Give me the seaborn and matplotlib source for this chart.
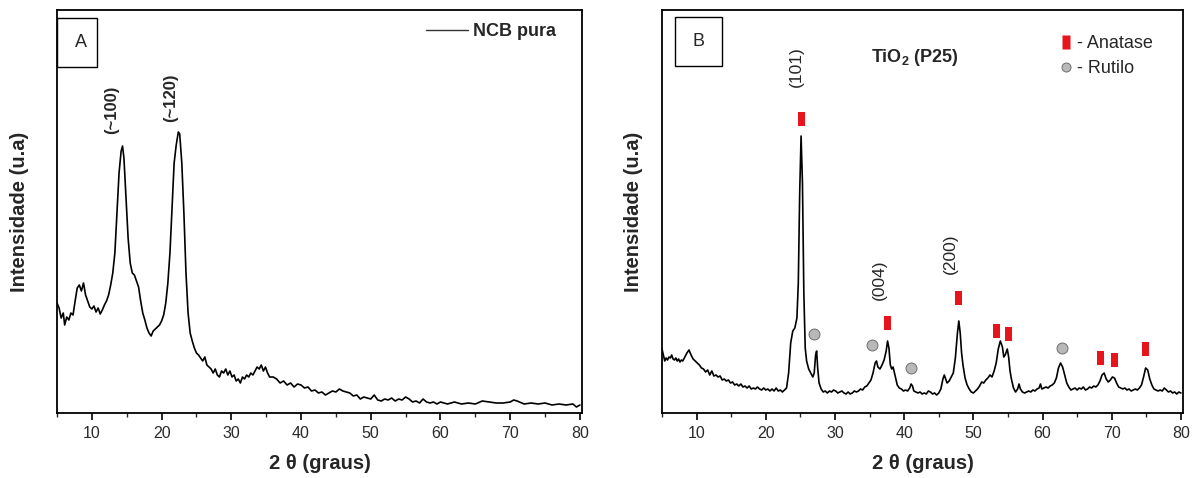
import numpy as np
import pandas as pd
import matplotlib
matplotlib.use("Agg")
import matplotlib.pyplot as plt
from matplotlib.patches import Rectangle
from matplotlib.lines import Line2D
from matplotlib.ticker import MultipleLocator
import seaborn as sns

# ---------------- data ----------------
ncb_theta = [5.0, 5.3, 5.6, 5.9, 6.1, 6.4, 6.7, 7.0, 7.3, 7.6, 7.9, 8.2, 8.5, 8.8, 9.1, 9.4, 9.7,
             10.0, 10.3, 10.6, 10.9, 11.2, 11.5, 11.8, 12.1, 12.4, 12.7, 13.0, 13.3, 13.6, 13.9,
             14.2, 14.4, 14.6, 14.9, 15.2, 15.5, 15.8, 16.1, 16.4, 16.7, 17.0, 17.3, 17.6, 17.9,
             18.2, 18.5, 18.8, 19.1, 19.4, 19.7, 20.0, 20.3, 20.6, 20.9, 21.2, 21.5, 21.8, 22.1,
             22.4, 22.6, 22.9, 23.2, 23.5, 23.8, 24.1, 24.4, 24.7, 25.0, 25.3, 25.6, 25.9, 26.2,
             26.5, 26.8, 27.1, 27.4, 27.7, 28.0, 28.3, 28.6, 28.9, 29.2, 29.5, 29.8, 30.1, 30.4,
             30.7, 31.0, 31.3, 31.6, 31.9, 32.2, 32.5, 32.8, 33.1, 33.4, 33.7, 34.0, 34.3, 34.6,
             34.9, 35.2, 35.5, 36.0, 36.5, 37.0, 37.5, 38.0, 38.5, 39.0, 39.5, 40.0, 40.5, 41.0,
             41.5, 42.0, 42.5, 43.0, 43.5, 44.0, 44.5, 45.0, 45.5, 46.0, 46.5, 47.0, 47.5, 48.0,
             48.5, 49.0, 49.5, 50.0, 50.5, 51.0, 51.5, 52.0, 52.5, 53.0, 53.5, 54.0, 54.5, 55.0,
             55.5, 56.0, 56.5, 57.0, 57.5, 58.0, 58.5, 59.0, 59.5, 60.0, 61.0, 62.0, 63.0, 64.0,
             65.0, 66.0, 67.0, 68.0, 69.0, 70.0, 70.5, 71.0, 72.0, 73.0, 74.0, 75.0, 76.0, 77.0,
             78.0, 79.0, 79.5, 80.0]
ncb_int = [110, 105, 95, 100, 88, 96, 93, 100, 98, 112, 125, 128, 122, 130, 118, 112, 106,
           104, 107, 101, 105, 99, 103, 108, 112, 118, 128, 140, 160, 200, 240,
           262, 267, 255, 215, 175, 150, 140, 138, 132, 126, 112, 100, 93, 85,
           80, 77, 82, 84, 86, 88, 92, 98, 110, 130, 160, 205, 250, 268,
           281, 279, 250, 200, 140, 100, 80, 72, 65, 60, 58, 55, 52, 56,
           48, 46, 44, 40, 44, 38, 36, 42, 40, 44, 38, 42, 36, 38,
           32, 34, 30, 36, 34, 38, 36, 40, 38, 42, 46, 44, 48, 42,
           46, 40, 36, 36, 34, 30, 32, 28, 30, 26, 29, 28, 25, 26,
           22, 23, 20, 21, 18, 20, 22, 21, 24, 22, 21, 20, 17, 18,
           14, 16, 15, 14, 18, 13, 12, 14, 13, 15, 12, 14, 13, 16,
           14, 11, 12, 10, 14, 11, 10, 11, 9, 11, 9, 11, 9, 10,
           9, 12, 11, 10, 10, 11, 13, 12, 9, 10, 9, 10, 8, 9,
           8, 9, 6, 8]

tio2_theta = [5.0, 5.2, 5.4, 5.6, 5.8, 6.0, 6.2, 6.4, 6.6, 6.8, 7.0, 7.2, 7.4, 7.6, 7.8, 8.0,
              8.3, 8.6, 8.9, 9.2, 9.5, 9.8, 10.1, 10.4, 10.7, 11.0, 11.3, 11.6, 11.9, 12.2, 12.5,
              12.8, 13.1, 13.4, 13.7, 14.0, 14.3, 14.6, 14.9, 15.2, 15.5, 15.8, 16.1, 16.4, 16.7,
              17.0, 17.3, 17.6, 17.9, 18.2, 18.5, 18.8, 19.1, 19.4, 19.7, 20.0, 20.3, 20.6, 20.9,
              21.2, 21.5, 21.8, 22.1, 22.4, 22.7, 23.0, 23.3, 23.6, 23.9, 24.2, 24.5, 24.7, 24.9,
              25.1, 25.3, 25.5, 25.7, 25.9, 26.2, 26.5, 26.8, 27.0, 27.2, 27.35, 27.5, 27.7, 28.0,
              28.3, 28.6, 28.9, 29.2, 29.5, 29.8, 30.1, 30.4, 30.7, 31.0, 31.3, 31.6, 31.9, 32.2,
              32.5, 32.8, 33.1, 33.4, 33.7, 34.0, 34.3, 34.6, 34.9, 35.2, 35.5, 35.8, 36.0, 36.2,
              36.5, 36.8, 37.1, 37.4, 37.6, 37.8, 38.0, 38.2, 38.4, 38.6, 38.8, 39.0, 39.3, 39.6,
              39.9, 40.2, 40.5, 40.8, 41.0, 41.2, 41.4, 41.7, 42.0, 42.3, 42.6, 42.9, 43.2, 43.5,
              43.8, 44.1, 44.4, 44.7, 45.0, 45.3, 45.6, 45.8, 46.0, 46.2, 46.5, 46.8, 47.1, 47.4,
              47.7, 47.9, 48.1, 48.3, 48.5, 48.8, 49.1, 49.4, 49.7, 50.0, 50.3, 50.6, 50.9, 51.2,
              51.5, 51.8, 52.1, 52.4, 52.7, 53.0, 53.3, 53.6, 53.9, 54.2, 54.4, 54.6, 54.9, 55.1,
              55.3, 55.5, 55.8, 56.1, 56.4, 56.6, 56.8, 57.1, 57.4, 57.7, 58.0, 58.3, 58.6, 58.9,
              59.2, 59.5, 59.7, 59.9, 60.2, 60.5, 60.8, 61.1, 61.4, 61.7, 62.0, 62.3, 62.6, 62.9,
              63.2, 63.5, 63.8, 64.1, 64.4, 64.7, 65.0, 65.3, 65.6, 65.9, 66.2, 66.5, 66.8, 67.1,
              67.4, 67.7, 68.0, 68.3, 68.6, 68.9, 69.2, 69.5, 69.8, 70.1, 70.4, 70.7, 71.0, 71.3,
              71.6, 71.9, 72.2, 72.5, 72.8, 73.1, 73.4, 73.7, 74.0, 74.3, 74.6, 74.9, 75.2, 75.5,
              75.8, 76.1, 76.4, 76.7, 77.0, 77.3, 77.6, 77.9, 78.2, 78.5, 78.8, 79.1, 79.4, 79.7,
              80.0]
tio2_int = [64, 58, 52, 55, 53, 56, 55, 58, 54, 53, 55, 52, 54, 51, 53, 52,
            56, 60, 63, 58, 54, 52, 50, 48, 45, 44, 41, 43, 38, 42, 37,
            38, 36, 37, 33, 34, 32, 33, 30, 31, 28, 29, 27, 29, 26,
            27, 25, 27, 24, 25, 24, 26, 24, 23, 25, 23, 24, 22, 24,
            22, 25, 22, 23, 21, 23, 25, 40, 70, 82, 85, 95, 130, 220,
            277, 230, 120, 65, 52, 44, 40, 36, 40, 58, 62, 45, 30, 24,
            21, 22, 20, 22, 21, 23, 22, 20, 21, 22, 20, 19, 21, 19,
            20, 22, 21, 22, 24, 23, 26, 27, 30, 33, 40, 50, 52, 46,
            44, 48, 53, 62, 72, 65, 48, 44, 46, 40, 34, 28, 25, 24,
            22, 23, 22, 25, 29, 27, 22, 21, 20, 21, 19, 20, 19, 22,
            21, 19, 20, 18, 20, 24, 34, 38, 34, 30, 32, 36, 40, 55,
            80, 92, 80, 60, 48, 35, 28, 24, 21, 20, 22, 24, 27, 31,
            30, 33, 35, 38, 36, 42, 50, 64, 72, 66, 56, 58, 64, 56,
            42, 34, 25, 21, 24, 29, 24, 21, 20, 21, 22, 21, 23, 22,
            24, 25, 29, 24, 25, 26, 25, 27, 28, 30, 35, 45, 50, 46,
            38, 30, 26, 23, 24, 25, 23, 25, 24, 26, 23, 24, 26, 25,
            27, 26, 28, 32, 38, 40, 34, 31, 33, 36, 35, 30, 26, 25,
            24, 25, 23, 24, 22, 23, 24, 23, 25, 28, 36, 45, 43, 34,
            28, 24, 23, 22, 23, 22, 25, 23, 21, 22, 20, 21, 19, 21,
            20]

anatase_theta = [25.2, 37.6, 47.9, 53.3, 55.1, 68.4, 70.4, 74.9]
anatase_int = [294, 90, 115, 82, 79, 55, 53, 64]
rutilo_theta = [27.0, 35.3, 41.0, 62.8]
rutilo_int = [79, 68, 45, 65]

ncb_labels = ["(~100)", "(~120)"]
ncb_label_theta = [12.9, 21.3]
ncb_label_int = [303, 315]
tio2_labels = ["(101)", "(004)", "(200)"]
tio2_label_theta = [24.4, 36.4, 46.7]
tio2_label_int = [346, 133, 159]

x_ticks = [10, 20, 30, 40, 50, 60, 70, 80]

# ---------------- style ----------------
sns.set_theme(style="white")
plt.rcParams["font.family"] = ["Liberation Sans", "DejaVu Sans"]
plt.rcParams["mathtext.fontset"] = "custom"
plt.rcParams["mathtext.bf"] = "Liberation Sans:bold"
plt.rcParams["mathtext.rm"] = "Liberation Sans"

W, H = 1196, 478
fig = plt.figure(figsize=(W / 100, H / 100), dpi=100)
axA = fig.add_axes([57 / W, 65 / H, 525 / W, 403 / H])
axB = fig.add_axes([662 / W, 65 / H, 521 / W, 403 / H])

dfA = pd.DataFrame({"theta": ncb_theta, "I": ncb_int})
dfB = pd.DataFrame({"theta": tio2_theta, "I": tio2_int})

sns.lineplot(data=dfA, x="theta", y="I", ax=axA, color="black", lw=1.2, label="NCB pura")
sns.lineplot(data=dfB, x="theta", y="I", ax=axB, color="black", lw=1.2, legend=False)

rect_marker = [(-0.27, -0.5), (0.27, -0.5), (0.27, 0.5), (-0.27, 0.5), (-0.27, -0.5)]
red = "#e8141b"
grey = "#b8b8b8"
sns.scatterplot(x=anatase_theta, y=anatase_int, ax=axB, marker=rect_marker, s=95,
                color=red, edgecolor="none", linewidth=0, legend=False, zorder=3)
sns.scatterplot(x=rutilo_theta, y=rutilo_int, ax=axB, marker="o", s=62,
                color=grey, edgecolor="#6e6e6e", linewidth=0.7, legend=False, zorder=3)

for ax in (axA, axB):
    ax.set_xlim(5, 80.3)
    ax.set_ylim(0, 403)
    ax.set_yticks([])
    ax.set_xticks(x_ticks)
    ax.xaxis.set_minor_locator(MultipleLocator(5))
    ax.tick_params(axis="x", which="major", direction="out", length=5, width=1.2,
                   labelsize=11.5, colors="black", labelcolor="#2a2a2a", pad=4, bottom=True)
    ax.tick_params(axis="x", which="minor", direction="out", length=3, width=1.0, bottom=True)
    for sp in ax.spines.values():
        sp.set_color("black")
        sp.set_linewidth(1.3)
    ax.set_xlabel("2 θ (graus)", fontsize=14.5, fontweight="bold", labelpad=10)

axA.set_ylabel("Intensidade (u.a)", fontsize=14.5, fontweight="bold", labelpad=20)
axB.set_ylabel("Intensidade (u.a)", fontsize=14.5, fontweight="bold", labelpad=14)

# peak labels
for t, x, y in zip(ncb_labels, ncb_label_theta, ncb_label_int):
    axA.text(x, y, t, rotation=90, ha="center", va="center", fontsize=12, fontweight="bold")
for t, x, y in zip(tio2_labels, tio2_label_theta, tio2_label_int):
    axB.text(x, y, t, rotation=90, ha="center", va="center", fontsize=12.5)

# panel boxes
axA.add_patch(Rectangle((0, 0.859), 0.076, 0.121, transform=axA.transAxes,
                        fill=False, edgecolor="black", lw=1.0, clip_on=False))
axA.text(0.046, 0.92, "A", transform=axA.transAxes, ha="center", va="center", fontsize=13)
axB.add_patch(Rectangle((0.025, 0.861), 0.090, 0.122, transform=axB.transAxes,
                        fill=False, edgecolor="black", lw=1.0, clip_on=False))
axB.text(0.070, 0.922, "B", transform=axB.transAxes, ha="center", va="center", fontsize=13)

# legend A
axA.legend(loc="center right", bbox_to_anchor=(0.968, 0.947), frameon=False,
           handlelength=2.3, handletextpad=0.3, borderpad=0,
           prop={"weight": "bold", "size": 13})
for line in axA.get_legend().get_lines():
    line.set_linewidth(1.0)
    line.set_color("#333333")

# title B
axB.text(0.486, 0.881, r"TiO$_\mathbf{2}$ (P25)", transform=axB.transAxes, ha="center",
         va="center", fontsize=13, fontweight="bold")

# legend B
handles = [Line2D([], [], linestyle="none", marker=rect_marker, markersize=10,
                  markerfacecolor=red, markeredgecolor="none"),
           Line2D([], [], linestyle="none", marker="o", markersize=6.5,
                  markerfacecolor=grey, markeredgecolor="#6e6e6e", markeredgewidth=0.7)]
axB.legend(handles, ["- Anatase", "- Rutilo"], loc="upper left", bbox_to_anchor=(0.75, 0.96),
           frameon=False, handlelength=0.5, handletextpad=0.35, labelspacing=0.45,
           borderpad=0, prop={"size": 13})

fig.savefig("out.png", dpi=100, facecolor="white")
